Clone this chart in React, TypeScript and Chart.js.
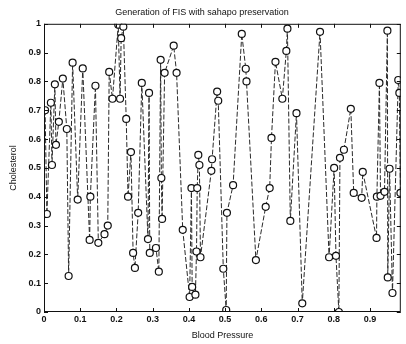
import React, { useEffect, useRef } from "react";
import { Chart, registerables } from "chart.js";

Chart.register(...registerables);

const titleText = "Generation of FIS with sahapo preservation";
const xAxisLabel = "Blood Pressure";
const yAxisLabel = "Cholesterol";

const xTicks = [0, 0.1, 0.2, 0.3, 0.4, 0.5, 0.6, 0.7, 0.8, 0.9];
const yTicks = [0, 0.1, 0.2, 0.3, 0.4, 0.5, 0.6, 0.7, 0.8, 0.9, 1];

const bloodPressure = [
  0.003, 0.008, 0.019, 0.022, 0.03, 0.033, 0.041, 0.052, 0.063, 0.068,
  0.079, 0.093, 0.107, 0.126, 0.128, 0.142, 0.15, 0.167, 0.176, 0.18,
  0.189, 0.205, 0.21, 0.213, 0.219, 0.227, 0.232, 0.24, 0.246, 0.251,
  0.26, 0.27, 0.287, 0.29, 0.292, 0.309, 0.317, 0.322, 0.324, 0.326,
  0.333, 0.358, 0.366, 0.383, 0.402, 0.407, 0.409, 0.418, 0.421, 0.423,
  0.426, 0.429, 0.432, 0.462, 0.464, 0.478, 0.481, 0.495, 0.503, 0.505,
  0.522, 0.546, 0.557, 0.559, 0.585, 0.612, 0.623, 0.628, 0.639, 0.658,
  0.669, 0.672, 0.68, 0.697, 0.713, 0.762, 0.787, 0.801, 0.806, 0.814,
  0.817, 0.828, 0.847, 0.855, 0.877, 0.88, 0.918, 0.919, 0.926, 0.929,
  0.94, 0.948, 0.949, 0.954, 0.962, 0.978, 0.981, 0.984,
];

const cholesterol = [
  0.7, 0.34, 0.726, 0.51, 0.79, 0.58, 0.66, 0.81, 0.635, 0.125,
  0.865, 0.39, 0.845, 0.25, 0.4, 0.785, 0.24, 0.27, 0.3, 0.833,
  0.74, 0.997, 0.74, 0.95, 0.99, 0.67, 0.4, 0.555, 0.205, 0.153,
  0.344, 0.795, 0.253, 0.76, 0.205, 0.222, 0.14, 0.875, 0.465, 0.323,
  0.83, 0.924, 0.83, 0.285, 0.052, 0.43, 0.087, 0.06, 0.21, 0.43,
  0.545, 0.51, 0.19, 0.49, 0.53, 0.765, 0.733, 0.15, 0.007, 0.344,
  0.44, 0.965, 0.844, 0.8, 0.18, 0.365, 0.43, 0.604, 0.868, 0.74,
  0.906, 0.983, 0.316, 0.69, 0.03, 0.972, 0.19, 0.5, 0.195, 0.0,
  0.535, 0.563, 0.705, 0.413, 0.396, 0.486, 0.257, 0.4, 0.795, 0.403,
  0.417, 0.976, 0.12, 0.497, 0.066, 0.805, 0.76, 0.413,
];

const FONT = "'Liberation Sans', Arial, sans-serif";

const framePlugin = {
  id: "matlabFrame",
  afterDatasetsDraw(chart: any) {
    const { ctx, chartArea, scales } = chart;
    const { left, right, top, bottom } = chartArea;
    ctx.save();
    ctx.strokeStyle = "#111";
    ctx.lineWidth = 1;
    ctx.setLineDash([]);
    ctx.strokeRect(left + 0.5, top + 0.5, right - left - 1, bottom - top - 1);
    const len = 4;
    ctx.beginPath();
    xTicks.forEach((v) => {
      const px = Math.round(scales.x.getPixelForValue(v)) + 0.5;
      ctx.moveTo(px, bottom);
      ctx.lineTo(px, bottom - len);
      ctx.moveTo(px, top);
      ctx.lineTo(px, top + len);
    });
    yTicks.forEach((v) => {
      const py = Math.round(scales.y.getPixelForValue(v)) + 0.5;
      ctx.moveTo(left, py);
      ctx.lineTo(left + len, py);
      ctx.moveTo(right, py);
      ctx.lineTo(right - len, py);
    });
    ctx.stroke();
    ctx.restore();
  },
};

export default function App() {
  const ref = useRef<HTMLCanvasElement | null>(null);

  useEffect(() => {
    document.body.style.margin = "0";
    const canvas = ref.current;
    if (!canvas) return;
    const points = bloodPressure.map((x, i) => ({ x, y: cholesterol[i] }));
    const chart = new Chart(canvas, {
      type: "line",
      data: {
        datasets: [
          {
            data: points,
            borderColor: "#2a2a2a",
            borderWidth: 1,
            borderDash: [5, 2],
            pointRadius: 3.5,
            pointBorderWidth: 1.2,
            pointBorderColor: "#111",
            pointBackgroundColor: "#fff",
            tension: 0,
          },
        ],
      },
      options: {
        responsive: false,
        animation: false,
        devicePixelRatio: 1,
        layout: { padding: { left: 0, right: 2, top: 0, bottom: 0 } },
        plugins: {
          legend: { display: false },
          tooltip: { enabled: false },
          title: {
            display: true,
            text: titleText,
            color: "#111",
            font: { family: FONT, size: 9, weight: "normal" },
            padding: { top: 7, bottom: 6 },
          },
        },
        scales: {
          x: {
            type: "linear",
            min: 0,
            max: 0.985,
            afterBuildTicks: (scale: any) => {
              scale.ticks = xTicks.map((v) => ({ value: v }));
            },
            afterFit: (scale: any) => {
              scale.height = 32;
            },
            ticks: {
              color: "#111",
              font: { family: FONT, size: 9, weight: "bold" },
              padding: 2,
              maxRotation: 0,
              autoSkip: false,
              callback: (v: any) => String(Number(v)),
            },
            grid: { display: false, drawTicks: false },
            border: { display: false },
            title: {
              display: true,
              text: xAxisLabel,
              color: "#111",
              font: { family: FONT, size: 9 },
              padding: { top: 0, bottom: 3 },
            },
          },
          y: {
            type: "linear",
            min: 0,
            max: 1,
            afterBuildTicks: (scale: any) => {
              scale.ticks = yTicks.map((v) => ({ value: v }));
            },
            afterFit: (scale: any) => {
              scale.width = 44;
            },
            ticks: {
              color: "#111",
              font: { family: FONT, size: 9, weight: "bold" },
              padding: 3,
              autoSkip: false,
              callback: (v: any) => String(Number(v)),
            },
            grid: { display: false, drawTicks: false },
            border: { display: false },
            title: {
              display: true,
              text: yAxisLabel,
              color: "#111",
              font: { family: FONT, size: 9 },
              padding: { top: 8, bottom: 0 },
            },
          },
        },
      },
      plugins: [framePlugin],
    });
    return () => chart.destroy();
  }, []);

  return (
    <div style={{ width: 406, height: 344, background: "#fff" }}>
      <canvas ref={ref} width={406} height={344} style={{ display: "block" }} />
    </div>
  );
}
